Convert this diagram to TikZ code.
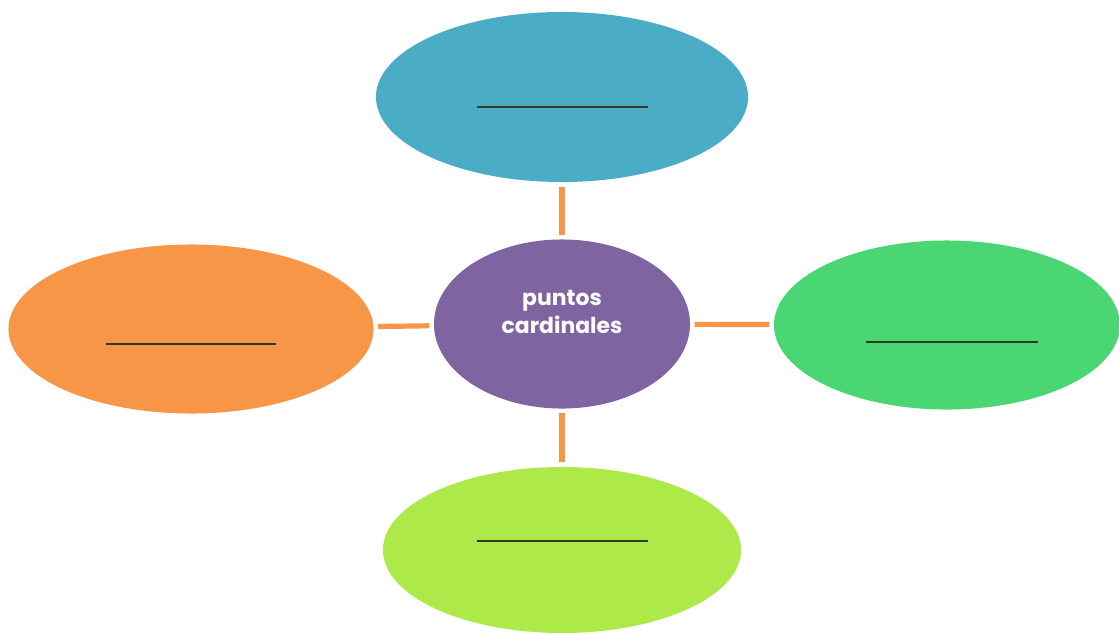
\documentclass[tikz,border=0pt]{standalone}
\usepackage{fontspec}
\newfontfamily\popfont{Poppins}
\usetikzlibrary{shapes,positioning}
\definecolor{cblue}{HTML}{4AACC5}
\definecolor{cpurple}{HTML}{8064A2}
\definecolor{cgreen}{HTML}{4AD672}
\definecolor{corange}{HTML}{F79646}
\definecolor{clime}{HTML}{AEE94A}
\definecolor{cline}{HTML}{2E3A2A}
\tikzset{
	blob/.style={ellipse,inner sep=0,draw=none},
	core/.style={blob,fill=cpurple,minimum width=6.4cm,minimum height=4.225cm},
	link/.style={color=corange,line width=1.3mm,shorten <=0.11cm,shorten >=0.11cm},
	blank/.style={color=cline,line width=0.35mm},
	coretext/.style={white,font=\popfont\bfseries\fontsize{15.6}{20.5}\selectfont,align=center}
}
\begin{document}
\begin{tikzpicture}[x=0.025cm,y=-0.025cm]
	\useasboundingbox (0,0) rectangle (1119,632);
	%%%centre
	\node[core,label={[coretext,yshift=0.3cm]center:puntos\\cardinales}] (centro) at (562,324) {};
	%%%around
	\node[blob,fill=cblue,minimum width=9.3cm,minimum height=4.25cm] (norte) at (562,97) {};
	\node[blob,fill=cgreen,minimum width=8.65cm,minimum height=4.225cm] (este) at (947,325) {};
	\node[blob,fill=corange,minimum width=9.125cm,minimum height=4.225cm] (oeste) at (191,329) {};
	\node[blob,fill=clime,minimum width=8.95cm,minimum height=4.15cm] (sur) at (562,550) {};
	
	\draw[link] (norte) -- (centro);
	\draw[link] (centro) -- (sur);
	\draw[link] (oeste) -- (centro);
	\draw[link] (centro) -- (este);
	
	\draw[blank] ([xshift=-2.12cm,yshift=-0.25cm]norte.center) -- ++(171,0);
	\draw[blank] ([xshift=-2.12cm,yshift=-0.375cm]oeste.center) -- ++(170,0);
	\draw[blank] ([xshift=-2.02cm,yshift=-0.425cm]este.center) -- ++(172,0);
	\draw[blank] ([xshift=-2.12cm,yshift=0.225cm]sur.center) -- ++(171,0);
\end{tikzpicture}
\end{document}
